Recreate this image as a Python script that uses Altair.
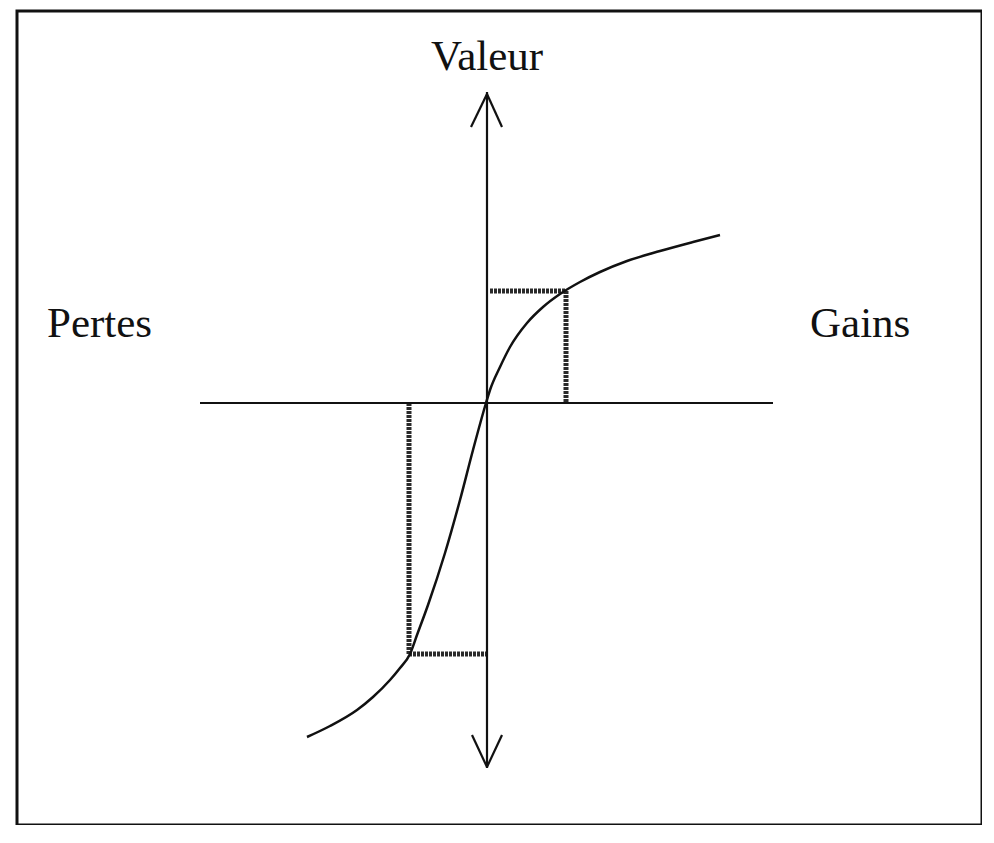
import altair as alt
import pandas as pd

# Value function curve (x = gains/losses, y = value)
curve_x = [-179, -156, -129, -113, -96, -86, -76, -69, -58, -41, -26, -13, 0,
           4, 14, 24, 41, 57, 74, 94, 114, 141, 174, 207, 234]
curve_y = [-334, -323, -307, -294, -277, -265, -251, -232, -202, -150, -97, -47, 0,
           13, 36, 56, 80, 96, 109, 121, 131, 142, 152, 161, 168]

# Axis lines and arrowheads
axis_x = [-286, 1, 1, 1, 1, 1]
axis_y = [0, 311, 309, 309, -364, -364]
axis_x2 = [287, 1, -15, 16, -14, 16]
axis_y2 = [0, -365, 276, 276, -332, -332]

# Dotted guide segments
guide_x = [4, 80, -77, -77]
guide_y = [112, 112, 0, -251]
guide_x2 = [80, 80, -77, 0]
guide_y2 = [112, 0, -251, -251]

# Labels
label_text = ["Valeur", "Pertes", "Gains"]
label_x = [1, -439, 324]
label_y = [333, 66, 66]
label_align = ["center", "left", "left"]

xs = alt.Scale(domain=[-469, 496], nice=False, zero=False)
ys = alt.Scale(domain=[-422, 392], nice=False, zero=False)

curve_df = pd.DataFrame({"x": curve_x, "y": curve_y})
axis_df = pd.DataFrame({"x": axis_x, "y": axis_y, "x2": axis_x2, "y2": axis_y2})
guide_df = pd.DataFrame({"x": guide_x, "y": guide_y, "x2": guide_x2, "y2": guide_y2})
label_df = pd.DataFrame({"t": label_text, "x": label_x, "y": label_y, "a": label_align})

axes = alt.Chart(axis_df).mark_rule(color="#111111", strokeWidth=2.2).encode(
    x=alt.X("x:Q", scale=xs, axis=None),
    y=alt.Y("y:Q", scale=ys, axis=None),
    x2="x2:Q",
    y2="y2:Q",
)

guides = alt.Chart(guide_df).mark_rule(color="#2a2a2a", strokeWidth=5, strokeDash=[3, 1]).encode(
    x=alt.X("x:Q", scale=xs, axis=None),
    y=alt.Y("y:Q", scale=ys, axis=None),
    x2="x2:Q",
    y2="y2:Q",
)

curve = alt.Chart(curve_df).mark_line(color="#111111", strokeWidth=2.5, interpolate="monotone").encode(
    x=alt.X("x:Q", scale=xs, axis=None),
    y=alt.Y("y:Q", scale=ys, axis=None),
)

text_center = alt.Chart(label_df[label_df.a == "center"]).mark_text(
    font="Liberation Serif", fontSize=43, color="#111111", align="center", baseline="alphabetic"
).encode(
    x=alt.X("x:Q", scale=xs, axis=None),
    y=alt.Y("y:Q", scale=ys, axis=None),
    text="t:N",
)
text_left = alt.Chart(label_df[label_df.a == "left"]).mark_text(
    font="Liberation Serif", fontSize=43, color="#111111", align="left", baseline="alphabetic"
).encode(
    x=alt.X("x:Q", scale=xs, axis=None),
    y=alt.Y("y:Q", scale=ys, axis=None),
    text="t:N",
)

chart = alt.layer(guides, axes, curve, text_center, text_left).properties(
    width=965,
    height=814,
    padding={"left": 9, "top": 3, "right": 0, "bottom": 0},
    autosize="none",
    background="white",
).configure_view(stroke="#111111", strokeWidth=3)

chart.save("out.html", embed_options={"renderer": "svg", "actions": False})
